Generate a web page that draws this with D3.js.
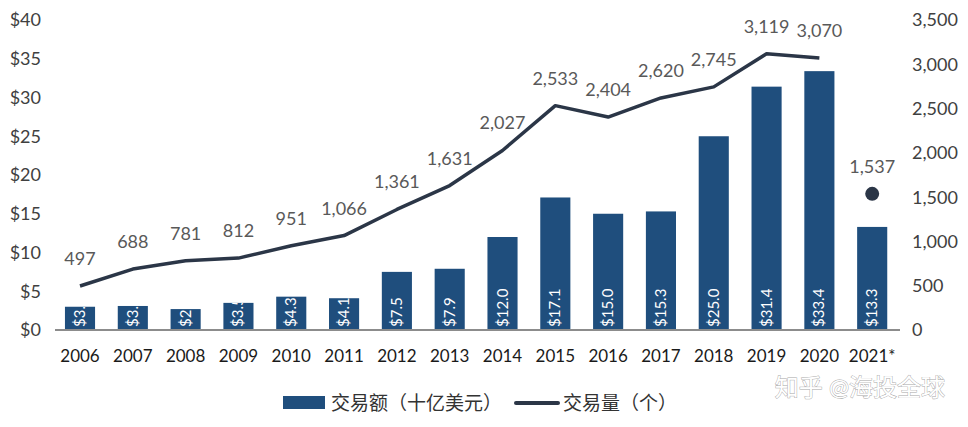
<!DOCTYPE html>
<html>
<head>
<meta charset="utf-8">
<script src="https://cdn.jsdelivr.net/npm/d3@7"></script>
<style>
  body { margin: 0; background: #fff; }
  text { font-family: Lato, "Noto Sans CJK SC", sans-serif; }
</style>
</head>
<body>
<div id="chart"></div>
<script>
// données
const years = ['2006','2007','2008','2009','2010','2011','2012','2013','2014','2015','2016','2017','2018','2019','2020','2021*'];
const amounts = [3.0, 3.1, 2.7, 3.5, 4.3, 4.1, 7.5, 7.9, 12.0, 17.1, 15.0, 15.3, 25.0, 31.4, 33.4, 13.3];
const counts = [497, 688, 781, 812, 951, 1066, 1361, 1631, 2027, 2533, 2404, 2620, 2745, 3119, 3070];
const count2021 = 1537;
const leftTicks = [0, 5, 10, 15, 20, 25, 30, 35, 40];
const rightTicks = [0, 500, 1000, 1500, 2000, 2500, 3000, 3500];

const W = 968, H = 427;
const plotTop = 20, plotBottom = 330;
const barColor = '#1f4e7d', lineColor = '#2b3647', labelColor = '#595959';

const svg = d3.select('#chart').append('svg')
    .attr('width', W).attr('height', H);

const x = d3.scaleBand().domain(years).range([53.6, 898.6]).paddingInner(0.43).paddingOuter(0.215);
const yL = d3.scaleLinear().domain([0, 40]).range([plotBottom, plotTop]);
const yR = d3.scaleLinear().domain([0, 3500]).range([plotBottom, plotTop]);
const cx = d => x(d) + x.bandwidth() / 2;

// axe gauche
svg.append('g').selectAll('text').data(leftTicks).join('text')
    .attr('x', 41).attr('y', d => yL(d)).attr('dy', '0.36em')
    .attr('text-anchor', 'end').attr('font-size', 18).attr('fill', '#404040')
    .text(d => '$' + d);

// axe droit
svg.append('g').selectAll('text').data(rightTicks).join('text')
    .attr('x', 912).attr('y', d => yR(d)).attr('dy', '0.36em')
    .attr('text-anchor', 'start').attr('font-size', 18).attr('fill', '#404040')
    .text(d => d3.format(',')(d));

// barres
const defs = svg.append('defs');
years.forEach((y, i) => {
    defs.append('clipPath').attr('id', 'clip' + i).append('rect')
        .attr('x', x(y)).attr('y', yL(amounts[i])).attr('width', x.bandwidth()).attr('height', plotBottom - yL(amounts[i]));
});

svg.append('g').selectAll('rect').data(years).join('rect')
    .attr('x', d => x(d)).attr('width', x.bandwidth())
    .attr('y', (d, i) => yL(amounts[i]))
    .attr('height', (d, i) => plotBottom - yL(amounts[i]))
    .attr('fill', barColor);

// étiquettes des barres, coupées à la largeur de la barre
svg.append('g').selectAll('g').data(years).join('g')
    .attr('clip-path', (d, i) => `url(#clip${i})`)
    .append('text')
    .attr('transform', d => `translate(${cx(d) + 5},${plotBottom - 3}) rotate(-90)`)
    .attr('font-size', 15).attr('fill', '#fff')
    .text((d, i) => '$' + amounts[i].toFixed(1));

// axe x
svg.append('line').attr('x1', 55).attr('x2', 900).attr('y1', plotBottom).attr('y2', plotBottom)
    .attr('stroke', '#8c8c8c').attr('stroke-width', 2);

svg.append('g').selectAll('text').data(years).join('text')
    .attr('x', d => cx(d)).attr('y', 362)
    .attr('text-anchor', 'middle').attr('font-size', 17).attr('fill', '#1a1a1a')
    .text(d => d);

// ligne
const lineYears = years.slice(0, counts.length);
svg.append('path')
    .datum(counts)
    .attr('fill', 'none').attr('stroke', lineColor).attr('stroke-width', 3.5)
    .attr('stroke-linejoin', 'round')
    .attr('d', d3.line().x((d, i) => cx(lineYears[i])).y(d => yR(d)));

svg.append('g').selectAll('text').data(counts).join('text')
    .attr('x', (d, i) => cx(lineYears[i])).attr('y', d => yR(d) - 21)
    .attr('text-anchor', 'middle').attr('font-size', 18).attr('fill', labelColor)
    .text(d => d3.format(',')(d));

// point 2021
svg.append('circle').attr('cx', cx('2021*')).attr('cy', yR(count2021)).attr('r', 7).attr('fill', lineColor);
svg.append('text').attr('x', cx('2021*')).attr('y', yR(count2021) - 21)
    .attr('text-anchor', 'middle').attr('font-size', 18).attr('fill', labelColor)
    .text(d3.format(',')(count2021));

// légende
const lg = svg.append('g').attr('font-size', 19).attr('fill', '#333')
    .attr('font-family', '"Noto Sans CJK SC", sans-serif');
lg.append('rect').attr('x', 283).attr('y', 396).attr('width', 42).attr('height', 13).attr('fill', barColor);
lg.append('text').attr('x', 331).attr('y', 403).attr('dy', '0.35em').text('交易额（十亿美元）');
lg.append('line').attr('x1', 516).attr('x2', 558).attr('y1', 403).attr('y2', 403)
    .attr('stroke', lineColor).attr('stroke-width', 4).attr('stroke-linecap', 'round');
lg.append('text').attr('x', 563).attr('y', 403).attr('dy', '0.35em').text('交易量（个）');

// filigrane
svg.append('text').attr('x', 945).attr('y', 388).attr('dy', '0.35em')
    .attr('text-anchor', 'end').attr('font-size', 24).attr('fill', '#fff')
    .attr('stroke', '#a8a8a8').attr('stroke-width', 0.9).attr('paint-order', 'stroke')
    .attr('font-family', '"Noto Sans CJK SC", sans-serif')
    .text('知乎 @海投全球');
</script>
</body>
</html>
